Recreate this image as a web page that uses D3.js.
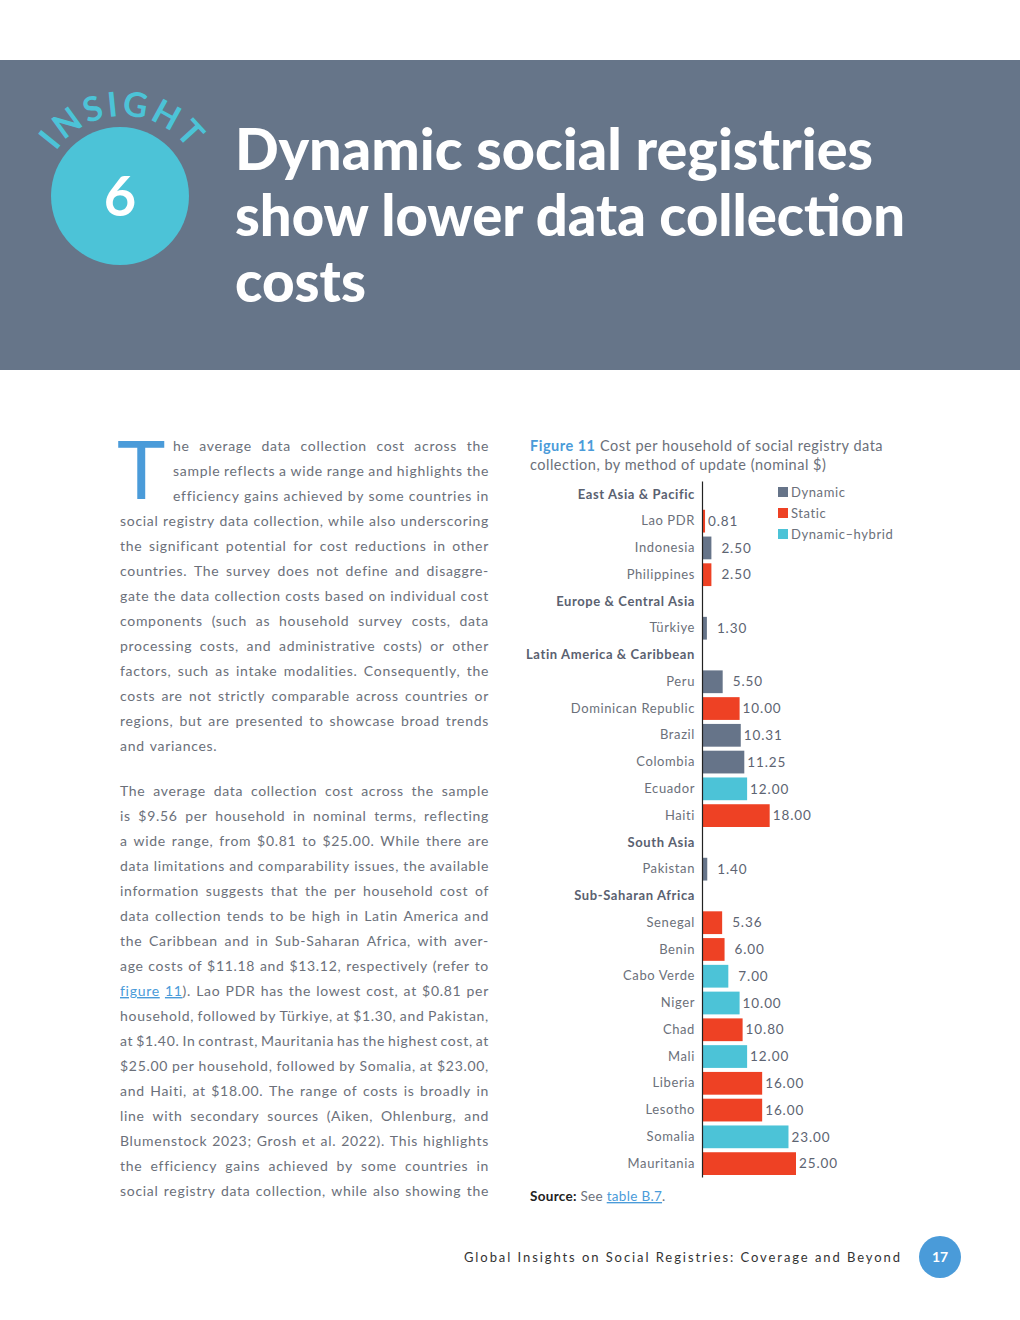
<!DOCTYPE html>
<html>
<head>
<meta charset="utf-8">
<script src="https://cdn.jsdelivr.net/npm/d3@7"></script>
<style>
  body { margin: 0; background: #fff; }
  svg { display: block; }
</style>
</head>
<body>
<svg id="page" width="1020" height="1320"></svg>
<script>
// chart data
const rowLabels = ["East Asia & Pacific", "Lao PDR", "Indonesia", "Philippines",
  "Europe & Central Asia", "Türkiye",
  "Latin America & Caribbean", "Peru", "Dominican Republic", "Brazil", "Colombia", "Ecuador", "Haiti",
  "South Asia", "Pakistan",
  "Sub-Saharan Africa", "Senegal", "Benin", "Cabo Verde", "Niger", "Chad", "Mali", "Liberia", "Lesotho", "Somalia", "Mauritania"]
const costs = [null, 0.81, 2.5, 2.5,
  null, 1.3,
  null, 5.5, 10, 10.31, 11.25, 12, 18,
  null, 1.4,
  null, 5.36, 6, 7, 10, 10.8, 12, 16, 16, 23, 25]
const methods = [null, "Static", "Dynamic", "Static",
  null, "Dynamic",
  null, "Dynamic", "Static", "Dynamic", "Dynamic", "Dynamic–hybrid", "Static",
  null, "Dynamic",
  null, "Static", "Static", "Dynamic–hybrid", "Dynamic–hybrid", "Static", "Dynamic–hybrid", "Static", "Static", "Dynamic–hybrid", "Static"]
const legendKeys = ["Dynamic", "Static", "Dynamic–hybrid"]
const legendColors = ["#667489", "#ee4124", "#4cc3d7"]

// page text
const titleLines = ["Dynamic social registries", "show lower data collection", "costs"]
const captionLines = ["Cost per household of social registry data", "collection, by method of update (nominal $)"]
const para1 = [
  "he average data collection cost across the",
  "sample reflects a wide range and highlights the",
  "efficiency gains achieved by some countries in",
  "social registry data collection, while also underscoring",
  "the significant potential for cost reductions in other",
  "countries. The survey does not define and disaggre-",
  "gate the data collection costs based on individual cost",
  "components (such as household survey costs, data",
  "processing costs, and administrative costs) or other",
  "factors, such as intake modalities. Consequently, the",
  "costs are not strictly comparable across countries or",
  "regions, but are presented to showcase broad trends",
  "and variances."
]
const para2 = [
  "The average data collection cost across the sample",
  "is $9.56 per household in nominal terms, reflecting",
  "a wide range, from $0.81 to $25.00. While there are",
  "data limitations and comparability issues, the available",
  "information suggests that the per household cost of",
  "data collection tends to be high in Latin America and",
  "the Caribbean and in Sub-Saharan Africa, with aver-",
  "age costs of $11.18 and $13.12, respectively (refer to",
  "[figure] [11]). Lao PDR has the lowest cost, at $0.81 per",
  "household, followed by Türkiye, at $1.30, and Pakistan,",
  "at $1.40. In contrast, Mauritania has the highest cost, at",
  "$25.00 per household, followed by Somalia, at $23.00,",
  "and Haiti, at $18.00. The range of costs is broadly in",
  "line with secondary sources (Aiken, Ohlenburg, and",
  "Blumenstock 2023; Grosh et al. 2022). This highlights",
  "the efficiency gains achieved by some countries in",
  "social registry data collection, while also showing the"
]

const slate = "#667589"
const cyan = "#4cc3d7"
const blue = "#4a9bd9"
const grey = "#6b707a"
const font = "Lato, 'Open Sans', sans-serif"

const svg = d3.select("#page").style("font-family", font)

// header band
svg.append("rect")
  .attr("x", 0).attr("y", 60)
  .attr("width", 1020).attr("height", 310)
  .attr("fill", slate)

// insight badge
svg.append("defs").append("path")
  .attr("id", "badgeArc")
  .attr("d", "M 42 197 A 81 81 0 0 1 204 197")
svg.append("text")
  .attr("fill", cyan)
  .attr("font-size", 34)
  .attr("font-weight", 700)
  .attr("letter-spacing", 3)
  .append("textPath")
  .attr("href", "#badgeArc")
  .attr("startOffset", "50%")
  .attr("text-anchor", "middle")
  .text("INSIGHT")
svg.append("circle")
  .attr("cx", 120).attr("cy", 196).attr("r", 69)
  .attr("fill", cyan)
svg.append("text")
  .attr("x", 120).attr("y", 216)
  .attr("text-anchor", "middle")
  .attr("fill", "#fff")
  .attr("font-size", 56)
  .attr("font-weight", 700)
  .text("6")

// title
const titleWidths = [638, 670, 131]
titleLines.forEach((line, i) => {
  svg.append("text")
    .attr("x", 235).attr("y", 170 + i * 66)
    .attr("fill", "#fff")
    .attr("font-size", 58)
    .attr("font-weight", 900)
    .attr("textLength", titleWidths[i])
    .attr("lengthAdjust", "spacingAndGlyphs")
    .text(line)
})

// body text, justified word by word
const body = svg.append("g")
  .attr("fill", grey)
  .attr("font-size", 14)
  .attr("letter-spacing", 0.7)

function addWord(sel, word) {
  // [..] marks a link part
  const parts = word.split(/(\[[^\]]*\])/).filter(p => p.length)
  parts.forEach(p => {
    if (p.startsWith("[")) {
      sel.append("tspan")
        .attr("fill", blue)
        .attr("text-decoration", "underline")
        .text(p.slice(1, -1))
    } else {
      sel.append("tspan").text(p)
    }
  })
}

function setLine(line, x0, x1, y, justify) {
  const words = line.split(" ")
  const nodes = words.map(w => {
    const t = body.append("text").attr("y", y)
    addWord(t, w)
    return t
  })
  const widths = nodes.map(n => n.node().getComputedTextLength())
  const total = d3.sum(widths)
  const gap = justify && words.length > 1 ? (x1 - x0 - total) / (words.length - 1) : 5
  let x = x0
  nodes.forEach((n, i) => {
    n.attr("x", x)
    x += widths[i] + gap
  })
}

para1.forEach((line, i) => {
  const x0 = i < 3 ? 173 : 120
  setLine(line, x0, 489, 451 + i * 25, i < para1.length - 1)
})
para2.forEach((line, i) => {
  setLine(line, 120, 489, 796 + i * 25, true)
})

// drop cap
svg.append("text")
  .attr("x", 117).attr("y", 499)
  .attr("fill", blue)
  .attr("font-size", 82)
  .attr("font-weight", 400)
  .text("T")

// figure caption
const cap = svg.append("g").attr("font-size", 14.5).attr("letter-spacing", 0.5)
cap.append("text")
  .attr("x", 530).attr("y", 451)
  .attr("fill", blue).attr("font-weight", 700)
  .text("Figure 11")
cap.append("text")
  .attr("x", 600).attr("y", 451)
  .attr("fill", grey)
  .text(captionLines[0])
cap.append("text")
  .attr("x", 530).attr("y", 470)
  .attr("fill", grey)
  .text(captionLines[1])

// bar chart
const axisX = 702
const x = d3.scaleLinear().domain([0, 25]).range([axisX, 796])
const y = d3.scaleBand()
  .domain(rowLabels)
  .range([481, 1177])
  .paddingInner(0.15)
  .paddingOuter(0.075)
const color = d3.scaleOrdinal().domain(legendKeys).range(legendColors)
const fmt = d3.format(".2f")

const rows = rowLabels.map((label, i) => ({label, cost: costs[i], method: methods[i]}))
const chart = svg.append("g")

chart.selectAll("rect.bar")
  .data(rows.filter(d => d.cost !== null))
  .join("rect")
  .attr("class", "bar")
  .attr("x", x(0))
  .attr("y", d => y(d.label))
  .attr("width", d => x(d.cost) - x(0))
  .attr("height", y.bandwidth())
  .attr("fill", d => color(d.method))

// short bars get their label pushed a little further out
chart.selectAll("text.val")
  .data(rows.filter(d => d.cost !== null))
  .join("text")
  .attr("class", "val")
  .attr("x", d => x(d.cost) + (d.cost > 1 && d.cost < 8 ? 10 : 3))
  .attr("y", d => y(d.label) + y.bandwidth() / 2)
  .attr("dy", "0.35em")
  .attr("fill", "#5d6472")
  .attr("font-size", 13.5)
  .attr("letter-spacing", 0.9)
  .text(d => fmt(d.cost))

const yAxis = chart.append("g")
  .attr("transform", `translate(${axisX},0)`)
  .call(d3.axisLeft(y).tickSize(0).tickPadding(7))
yAxis.select(".domain").attr("stroke", "#222").attr("stroke-width", 1.2)
yAxis.selectAll(".tick text")
  .attr("font-family", font)
  .attr("font-size", 13)
  .attr("letter-spacing", 0.6)
  .attr("fill", (d, i) => costs[i] === null ? "#5a6170" : grey)
  .attr("font-weight", (d, i) => costs[i] === null ? 700 : 400)

// legend
const legend = chart.append("g")
  .selectAll("g")
  .data(legendKeys)
  .join("g")
  .attr("transform", (d, i) => `translate(778,${487 + i * 21})`)
legend.append("rect")
  .attr("width", 10).attr("height", 10)
  .attr("fill", d => color(d))
legend.append("text")
  .attr("x", 13).attr("y", 5).attr("dy", "0.35em")
  .attr("fill", grey)
  .attr("font-size", 13)
  .attr("letter-spacing", 0.6)
  .text(d => d)

// source
const src = svg.append("text")
  .attr("x", 530).attr("y", 1201)
  .attr("font-size", 13.5)
  .attr("letter-spacing", 0.3)
  .attr("fill", grey)
src.append("tspan").attr("font-weight", 700).attr("fill", "#222").text("Source:")
src.append("tspan").text(" See ")
src.append("tspan").attr("fill", blue).attr("text-decoration", "underline").text("table B.7")
src.append("tspan").text(".")

// footer
svg.append("text")
  .attr("x", 464).attr("y", 1262)
  .attr("fill", "#333")
  .attr("font-size", 13)
  .attr("textLength", 436)
  .attr("lengthAdjust", "spacing")
  .text("Global Insights on Social Registries: Coverage and Beyond")
svg.append("circle")
  .attr("cx", 940).attr("cy", 1257).attr("r", 21)
  .attr("fill", blue)
svg.append("text")
  .attr("x", 940).attr("y", 1262)
  .attr("text-anchor", "middle")
  .attr("fill", "#fff")
  .attr("font-size", 14)
  .attr("font-weight", 700)
  .text("17")
</script>
</body>
</html>
